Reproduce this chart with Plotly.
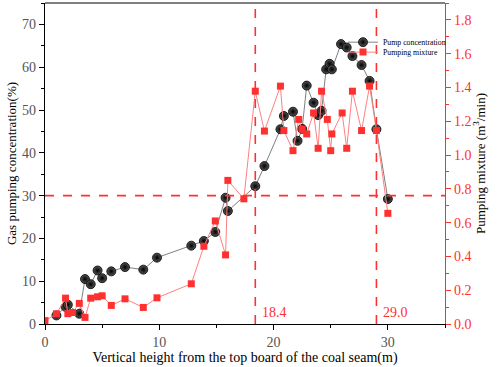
import plotly.graph_objects as go

# Pump concentration (%) vs height (m)
conc_x = [1.0, 1.8, 2.0, 3.0, 3.5, 4.0, 4.6, 5.0, 5.8, 7.0, 8.6, 9.8, 12.8, 13.9, 14.9,
          15.8, 16.0, 18.4, 19.2, 20.6, 20.9, 21.7, 22.1, 22.5, 22.9, 23.5, 23.9, 24.2,
          24.6, 24.9, 25.1, 25.9, 26.4, 26.9, 27.7, 28.4, 29.0, 30.0]
conc_y = [2.0, 4.0, 4.5, 2.4, 10.5, 9.3, 12.5, 10.7, 12.3, 13.3, 12.7, 15.5, 18.3, 19.4, 21.5,
          29.5, 26.4, 32.2, 36.9, 45.5, 48.6, 49.6, 42.8, 45.6, 55.7, 51.7, 48.8, 49.8,
          59.5, 60.8, 59.5, 65.4, 64.6, 62.6, 60.5, 56.8, 45.5, 29.2]

# Pumping mixture (m3/min) vs height (m)
mix_x = [0.0, 1.0, 1.8, 2.0, 2.4, 3.0, 3.5, 4.0, 4.6, 5.0, 5.8, 7.0, 8.6, 9.8, 12.8, 13.9,
         14.9, 15.8, 16.0, 17.4, 18.4, 19.2, 20.6, 20.9, 21.7, 22.2, 22.5, 22.9, 23.5, 23.9,
         24.2, 24.7, 25.0, 25.1, 26.0, 26.4, 26.9, 27.7, 28.4, 29.0, 30.0]
mix_y = [0.02, 0.06, 0.153, 0.061, 0.068, 0.122, 0.039, 0.153, 0.161, 0.167, 0.11, 0.149,
         0.098, 0.155, 0.238, 0.46, 0.61, 0.409, 0.85, 0.741, 1.378, 1.142, 1.408, 1.145,
         1.026, 1.211, 1.152, 1.125, 1.249, 1.04, 1.378, 1.211, 1.026, 1.125, 1.249, 1.04,
         1.378, 1.145, 1.408, 1.145, 0.655]

vlines = [18.4, 29.0]
hline_conc = 30

FONT = "Liberation Serif, Times New Roman, serif"
RED = "#FF3030"

fig = go.Figure()
fig.add_trace(go.Scatter(
    x=conc_x, y=conc_y, name="Pump concentration", mode="lines+markers",
    line=dict(color="#808080", width=1),
    marker=dict(symbol="circle", size=9, color="#555555",
                gradient=dict(type="radial", color="black"),
                line=dict(width=0.8, color="black")),
    yaxis="y", legend="legend"))
fig.add_trace(go.Scatter(
    x=mix_x, y=mix_y, name="Pumping mixture", mode="lines+markers",
    line=dict(color="#FF8080", width=1),
    marker=dict(symbol="square", size=7, color=RED),
    yaxis="y2", legend="legend2"))

for v in vlines:
    fig.add_shape(type="line", x0=v, x1=v, xref="x", y0=0, y1=1, yref="paper",
                  line=dict(color=RED, width=1.6, dash="dash"))
    fig.add_annotation(x=v, y=0.005, xref="x", yref="paper", text=f"{v:.1f}",
                       showarrow=False, xanchor="left", yanchor="bottom", xshift=5,
                       font=dict(family=FONT, size=14, color=RED))
fig.add_shape(type="line", x0=0, x1=1, xref="paper", y0=hline_conc, y1=hline_conc, yref="y",
              line=dict(color=RED, width=1.6, dash="dash"))

legend_common = dict(xanchor="left", yanchor="middle", bgcolor="rgba(0,0,0,0)",
                     font=dict(family=FONT, size=7.8, color="black"),
                     itemwidth=30, tracegroupgap=0)

fig.update_layout(
    width=498, height=367,
    margin=dict(l=45, r=53, t=3, b=43, autoexpand=False),
    paper_bgcolor="white", plot_bgcolor="white",
    font=dict(family=FONT, size=13, color="black"),
    showlegend=True,
    legend=dict(x=0.745, y=0.878, **legend_common),
    legend2=dict(x=0.745, y=0.847, **legend_common),
    xaxis=dict(range=[0, 35], tickvals=[0, 10, 20, 30], showgrid=False, zeroline=False,
               automargin=False,
               showline=True, linecolor="black", linewidth=1.2, mirror=False,
               ticks="outside", ticklen=5, tickcolor="black",
               minor=dict(tickvals=[5, 15, 25, 35], ticks="outside", ticklen=3, tickcolor="black"),
               tickfont=dict(family=FONT, size=14, color="#555555"),
               title=dict(text="Vertical height from the top board of the coal seam(m)",
                          font=dict(family=FONT, size=14, color="black"), standoff=2)),
    yaxis=dict(range=[0, 75], tickvals=[0, 10, 20, 30, 40, 50, 60, 70], showgrid=False,
               automargin=False,
               zeroline=False, showline=True, linecolor="black", linewidth=1.2,
               ticks="outside", ticklen=5, tickcolor="black",
               minor=dict(tickvals=[5, 15, 25, 35, 45, 55, 65, 75], ticks="outside", ticklen=3,
                          tickcolor="black"),
               tickfont=dict(family=FONT, size=14, color="#555555"),
               title=dict(text="Gas pumping concentration(%)",
                          font=dict(family=FONT, size=13, color="black"), standoff=2)),
    yaxis2=dict(range=[0, 1.9], overlaying="y", side="right", automargin=False,
                tickvals=[0, 0.2, 0.4, 0.6, 0.8, 1.0, 1.2, 1.4, 1.6, 1.8],
                tickformat=".1f", showgrid=False, zeroline=False,
                showline=True, linecolor=RED, linewidth=1.2,
                ticks="outside", ticklen=5, tickcolor=RED,
                minor=dict(tickvals=[0.1, 0.3, 0.5, 0.7, 0.9, 1.1, 1.3, 1.5, 1.7, 1.9],
                           ticks="outside", ticklen=3, tickcolor=RED),
                tickfont=dict(family=FONT, size=14, color=RED),
                title=dict(text="Pumping mixture (m<sup>3</sup>/min)",
                           font=dict(family=FONT, size=13, color="black"), standoff=2)),
)
# top border
fig.add_shape(type="line", x0=0, x1=1, xref="paper", y0=1, y1=1, yref="paper",
              line=dict(color="black", width=1.2))

fig.write_html("out.html", config={"displayModeBar": False},
               post_script="document.body.style.margin='0';document.body.style.overflow='hidden';")
